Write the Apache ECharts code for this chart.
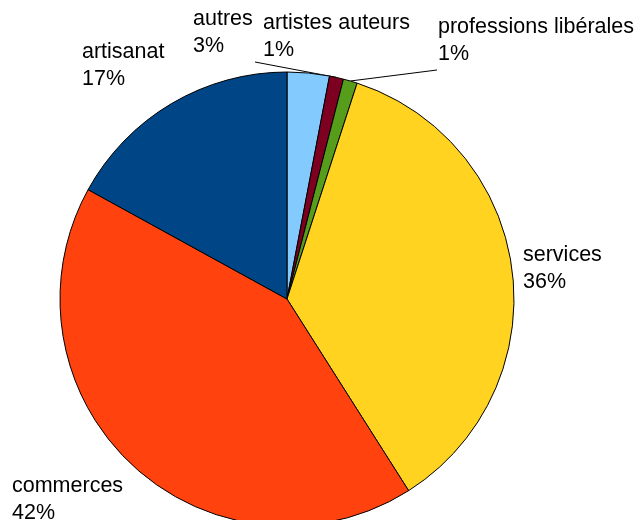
<!DOCTYPE html>
<html>
<head>
<meta charset="utf-8">
<script src="https://cdn.jsdelivr.net/npm/echarts@6/dist/echarts.min.js"></script>
<style>html,body{margin:0;padding:0;background:#fff}#c{width:639px;height:520px}</style>
</head>
<body>
<div id="c"></div>
<script>
const categories = ['autres', 'artistes auteurs', 'professions libérales', 'services', 'commerces', 'artisanat'];
const values = [3, 1, 1, 36, 42, 17];
const colors = ['#83caff', '#7e0021', '#579d1c', '#ffd320', '#ff420e', '#004586'];
const showLines = [false, true, true, false, false, false];
// label anchor (left, top) for each category
const labelPos = [[193, 6], [263, 10], [438, 14], [523, 242], [12, 473], [82, 39]];
// label-side end of the leader line, relative to the label anchor
const lineEnd = [null, [-8, 52], [-1, 56], null, null, null];

const chart = echarts.init(document.getElementById('c'));
chart.setOption({
  animation: false,
  series: [{
    type: 'pie',
    center: [287, 299],
    radius: 227,
    startAngle: 90,
    clockwise: true,
    avoidLabelOverlap: false,
    itemStyle: { borderColor: '#000', borderWidth: 1 },
    label: {
      show: true,
      position: 'outside',
      formatter: p => p.name + '\n' + p.value + '%',
      fontFamily: 'Liberation Sans, Arial, sans-serif',
      fontSize: 21.5,
      lineHeight: 27,
      color: '#000'
    },
    labelLine: { show: false, length: 5, length2: 5, lineStyle: { color: '#000', width: 1 } },
    labelLayout: params => {
      const i = params.dataIndex;
      const out = {
        x: labelPos[i][0],
        y: labelPos[i][1],
        align: 'left',
        verticalAlign: 'top'
      };
      if (lineEnd[i] && params.labelLinePoints) {
        const p0 = params.labelLinePoints[0];
        const e = [labelPos[i][0] + lineEnd[i][0], labelPos[i][1] + lineEnd[i][1]];
        out.labelLinePoints = [p0, e, e];
      }
      return out;
    },
    data: categories.map((c, i) => ({
      name: c,
      value: values[i],
      itemStyle: { color: colors[i] },
      labelLine: { show: showLines[i] }
    }))
  }]
});
</script>
</body>
</html>
